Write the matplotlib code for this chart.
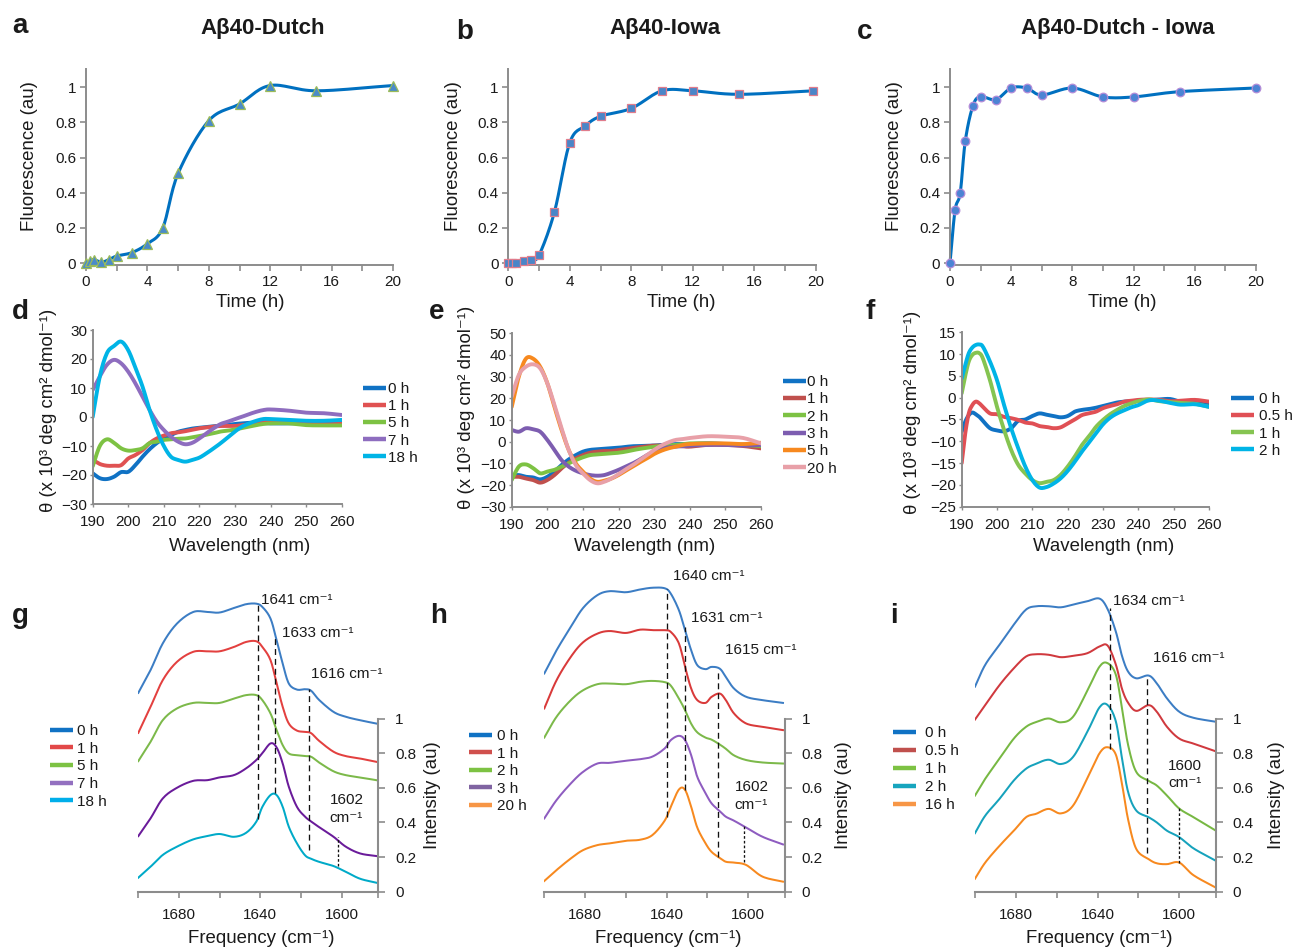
import numpy as np
import matplotlib
matplotlib.use("Agg")
import matplotlib.pyplot as plt
from matplotlib.lines import Line2D

plt.rcParams['font.family'] = ['Liberation Sans', 'DejaVu Sans']

# ---------------- data: ThT kinetics ----------------
KIN_T_A = [0, 0.25, 0.5, 1, 1.5, 2, 3, 4, 5, 6, 8, 10, 12, 15, 20]
KIN_Y_A = [0.0, 0.01, 0.02, 0.005, 0.02, 0.04, 0.06, 0.11, 0.20, 0.51, 0.81, 0.905, 1.01, 0.98, 1.01]
KIN_T_B = [0, 0.25, 0.5, 1, 1.5, 2, 3, 4, 5, 6, 8, 10, 12, 15, 19.85]
KIN_Y_B = [0.0, 0.0, 0.0, 0.01, 0.02, 0.045, 0.29, 0.685, 0.78, 0.835, 0.88, 0.98, 0.98, 0.96, 0.98]
KIN_T_C = [0, 0.33, 0.67, 1, 1.5, 2, 3, 4, 5, 6, 8, 10, 12, 15, 20]
KIN_Y_C = [0.0, 0.30, 0.40, 0.695, 0.895, 0.947, 0.93, 0.996, 0.996, 0.956, 0.996, 0.945, 0.945, 0.975, 0.996]
TITLES = ["A\u03b240-Dutch", "A\u03b240-Iowa", "A\u03b240-Dutch - Iowa"]
KIN_XTICKS = [0, 2, 4, 6, 8, 10, 12, 14, 16, 18, 20]
KIN_YTICKS = [0, 0.2, 0.4, 0.6, 0.8, 1.0]
KIN_YTICKLABELS = ["0", "0.2", "0.4", "0.6", "0.8", "1"]

# ---------------- data: CD spectra ----------------
WL_DE = [190, 192, 194, 196, 198, 200, 202, 204, 206, 208, 210, 212, 214, 216, 218, 220,
         222, 224, 226, 228, 230, 232, 234, 236, 238, 240, 245, 250, 255, 260]
CD_D_LABELS = ["0 h", "1 h", "5 h", "7 h", "18 h"]
CD_D_0H = [-19.4, -21.1, -21.4, -20.6, -19.0, -18.9, -16.6, -13.7, -11.1, -9.0, -7.4, -6.2, -5.1, -4.5, -4.0,
           -3.7, -3.4, -3.2, -3.0, -2.7, -2.4, -2.2, -2.0, -2.0, -2.1, -2.2, -2.2, -2.0, -1.6, -1.3]
CD_D_1H = [-14.8, -16.2, -16.8, -16.8, -16.6, -14.3, -13.1, -11.4, -9.0, -7.4, -6.4, -5.6, -5.3, -4.9, -4.4,
           -3.9, -3.6, -3.3, -3.1, -3.1, -3.1, -2.8, -2.6, -2.2, -1.8, -1.6, -2.0, -2.4, -2.5, -2.4]
CD_D_5H = [-17, -10, -7.7, -8.9, -10.8, -11.6, -11.4, -10.8, -9.0, -8.5, -7.9, -7.7, -7.5, -7.4, -7.0,
           -6.6, -6.1, -5.6, -5.0, -4.7, -4.3, -3.8, -3.3, -2.8, -2.4, -2.2, -2.2, -2.8, -2.9, -2.9]
CD_D_7H = [9.3, 14, 18, 19.7, 18.5, 15.6, 11.6, 7, 2.4, -1.6, -4.5, -6.8, -8.5, -9.4, -8.9,
           -7.4, -5.6, -3.9, -2.4, -1.6, -0.7, 0.1, 1.0, 1.8, 2.4, 2.6, 2.2, 1.5, 1.3, 0.7]
CD_D_18H = [0, 14, 22, 24.5, 26, 23, 17, 10.5, 2.4, -4.5, -10, -13.7, -14.8, -15.4, -14.8,
            -14, -12.5, -10.8, -9, -7, -5, -3.3, -2.2, -1.3, -0.7, -0.7, -1, -1.3, -1.3, -1]

CD_E_LABELS = ["0 h", "1 h", "2 h", "3 h", "5 h", "20 h"]
CD_E_0H = [-15.4, -15.4, -16.2, -16.5, -17.4, -16.2, -13.8, -10.8, -8.2, -6.2, -4.6, -3.8, -3.5, -3.3, -3.0,
           -2.8, -2.4, -2.1, -2.0, -1.9, -1.8, -1.5, -1.2, -1.1, -1.1, -1.1, -0.8, -1.1, -1.5, -1.8]
CD_E_1H = [-16.2, -16.2, -17, -17.7, -18.9, -17.7, -15.4, -12.3, -9.7, -7.7, -6.2, -5.1, -4.6, -4.3, -4.3,
           -3.8, -3.4, -2.9, -2.5, -2.1, -1.8, -1.8, -1.8, -1.9, -2.1, -2.3, -1.5, -1.5, -2.0, -3.1]
CD_E_2H = [-17.7, -11.5, -10.5, -12.2, -14.6, -13.8, -13, -11.5, -10, -8.5, -7.2, -6.2, -5.9, -5.6, -5.4,
           -5.1, -4.6, -3.9, -3.3, -2.8, -2.3, -2.0, -1.7, -1.5, -1.1, -0.8, -0.8, -1.1, -1.5, -2.0]
CD_E_3H = [5.4, 4.6, 6.2, 5.7, 4.6, 0.8, -3.8, -8.5, -11.5, -13.4, -14.6, -15.4, -15.7, -15.4, -14.3,
           -13, -11.5, -10, -8.2, -6.2, -4.6, -3.4, -2.6, -2.3, -2.0, -1.8, -1.5, -1.5, -1.8, -1.5]
CD_E_5H = [16, 30, 38.3, 38.3, 34.6, 27, 16, 5.4, -3.8, -10, -13.8, -17, -18.5, -18, -17,
           -15.4, -13.4, -11.5, -9.5, -7.7, -5.7, -4.2, -3.1, -2.3, -1.5, -1.1, -0.8, -0.8, -1.1, -0.5]
CD_E_20H = [20.8, 30.8, 34.6, 35.7, 33.8, 27, 17, 6.2, -3.8, -10.8, -14.6, -17.7, -19.2, -18.5, -17,
            -15, -12.8, -10.8, -8.5, -6.2, -3.8, -1.8, -0.3, 0.8, 1.2, 1.7, 2.5, 2.3, 1.7, -0.8]

WL_F = [190, 191, 192, 193, 194, 195, 196, 198, 200, 202, 204, 206, 208, 210, 212, 214, 216, 218,
        220, 222, 224, 226, 228, 230, 232, 234, 236, 238, 240, 243, 246, 249, 252, 256, 260]
CD_F_LABELS = ["0 h", "0.5 h", "1 h", "2 h"]
CD_F_0H = [-7.8, -5.5, -4.0, -3.4, -3.8, -4.4, -5.3, -7.0, -7.5, -7.7, -7.0, -5.3, -5.0, -4.2, -3.6, -3.9,
           -4.2, -4.5, -4.2, -3.2, -2.8, -2.6, -2.3, -1.9, -1.5, -1.1, -0.9, -0.8, -0.7, -0.6, -0.4, -0.3,
           -0.9, -0.9, -1.3]
CD_F_05H = [-15, -8.2, -3.6, -1.7, -0.9, -1.3, -2.1, -3.6, -3.8, -4.4, -4.7, -5.1, -5.7, -5.9, -6.5, -6.7,
            -7.0, -6.8, -5.9, -5.0, -4.0, -3.6, -3.2, -2.4, -1.9, -1.5, -0.9, -0.7, -0.5, -0.4, -0.5, -0.8,
            -0.7, -0.5, -0.9]
CD_F_1H = [1.0, 5.0, 8.3, 9.8, 10.3, 10.2, 9.0, 4.0, -2.1, -7.4, -12.0, -15.4, -17.4, -18.9, -19.6, -19.3,
           -18.9, -17.7, -15.8, -13.5, -10.9, -8.9, -6.7, -5.1, -3.8, -2.8, -1.9, -1.3, -0.8, -0.4, -0.8,
           -1.0, -1.2, -1.4, -2.1]
CD_F_2H = [4.4, 7.5, 10.2, 11.5, 12.1, 12.2, 11.7, 8.3, 4.0, -1.7, -7.0, -11.6, -15.8, -18.9, -20.6, -20.5,
           -19.7, -18.5, -16.8, -14.7, -12.4, -10.3, -8.2, -6.1, -4.6, -3.6, -2.9, -2.2, -1.7, -0.6, -0.7,
           -1.2, -1.6, -1.5, -2.1]

# ---------------- data: FTIR spectra ----------------
G_FREQ = [1700, 1694, 1688, 1681, 1673, 1666, 1660, 1653, 1647, 1642, 1639, 1635, 1632, 1629, 1626, 1622,
          1618, 1615, 1611, 1604, 1598, 1591, 1583]
G_LABELS = ["0 h", "1 h", "5 h", "7 h", "18 h"]
G_0H = [1.148, 1.279, 1.433, 1.548, 1.615, 1.615, 1.612, 1.638, 1.66, 1.663, 1.644, 1.577, 1.452, 1.317,
        1.202, 1.167, 1.169, 1.16, 1.106, 1.038, 1.01, 0.99, 0.971]
G_1H = [0.917, 1.067, 1.221, 1.327, 1.385, 1.388, 1.388, 1.413, 1.442, 1.446, 1.413, 1.337, 1.202, 1.067,
        0.971, 0.93, 0.923, 0.915, 0.87, 0.808, 0.783, 0.769, 0.75]
G_5H = [0.754, 0.865, 0.99, 1.058, 1.09, 1.09, 1.09, 1.115, 1.135, 1.135, 1.106, 1.029, 0.933, 0.846,
        0.798, 0.788, 0.783, 0.779, 0.745, 0.695, 0.673, 0.66, 0.644]
G_7H = [0.321, 0.423, 0.538, 0.60, 0.64, 0.644, 0.66, 0.673, 0.712, 0.76, 0.80, 0.856, 0.833, 0.74,
        0.606, 0.49, 0.433, 0.405, 0.372, 0.317, 0.26, 0.221, 0.206]
G_18H = [0.081, 0.144, 0.212, 0.26, 0.302, 0.321, 0.333, 0.317, 0.34, 0.404, 0.49, 0.558, 0.558, 0.49,
         0.375, 0.279, 0.21, 0.19, 0.172, 0.148, 0.115, 0.075, 0.052]
G_PEAKS = [1641, 1633, 1616, 1602]
G_PEAK_TOP = [1.663, 1.471, 1.173, 0.317]
G_PEAK_BOT = [0.417, 0.567, 0.24, 0.148]
G_PEAK_TEXT = ["1641 cm\u207b\u00b9", "1633 cm\u207b\u00b9", "1616 cm\u207b\u00b9", "1602\ncm\u207b\u00b9"]

H_FREQ = [1700, 1694, 1687, 1681, 1674, 1668, 1660, 1653, 1647, 1641, 1638, 1634, 1631, 1628, 1625, 1621,
          1618, 1614, 1611, 1607, 1601, 1593, 1583]
H_LABELS = ["0 h", "1 h", "2 h", "3 h", "20 h"]
H_0H = [1.26, 1.394, 1.529, 1.638, 1.712, 1.735, 1.729, 1.745, 1.755, 1.752, 1.721, 1.625, 1.51, 1.394,
        1.308, 1.285, 1.298, 1.288, 1.24, 1.173, 1.125, 1.106, 1.09]
H_1H = [1.058, 1.221, 1.356, 1.44, 1.49, 1.505, 1.494, 1.513, 1.51, 1.51, 1.5, 1.433, 1.298, 1.173,
        1.106, 1.09, 1.125, 1.144, 1.106, 1.029, 0.971, 0.952, 0.933]
H_2H = [0.89, 1.01, 1.106, 1.163, 1.198, 1.202, 1.198, 1.212, 1.217, 1.21, 1.19, 1.115, 1.048, 0.97,
        0.92, 0.89, 0.878, 0.85, 0.825, 0.787, 0.76, 0.746, 0.74]
H_3H = [0.423, 0.529, 0.625, 0.692, 0.74, 0.744, 0.756, 0.765, 0.78, 0.827, 0.875, 0.9, 0.875, 0.788,
        0.663, 0.57, 0.51, 0.465, 0.433, 0.41, 0.37, 0.317, 0.273]
H_20H = [0.062, 0.125, 0.192, 0.24, 0.269, 0.279, 0.294, 0.30, 0.327, 0.41, 0.49, 0.59, 0.588, 0.49,
         0.37, 0.28, 0.23, 0.195, 0.173, 0.168, 0.154, 0.087, 0.058]
H_PEAKS = [1640, 1631, 1615, 1602]
H_PEAK_TOP = [1.75, 1.529, 1.288, 0.385]
H_PEAK_BOT = [0.433, 0.587, 0.202, 0.173]
H_PEAK_TEXT = ["1640 cm\u207b\u00b9", "1631 cm\u207b\u00b9", "1615 cm\u207b\u00b9", "1602\ncm\u207b\u00b9"]

I_FREQ = [1700, 1695, 1688, 1681, 1675, 1670, 1664, 1658, 1652, 1645, 1639, 1635, 1631, 1628, 1625, 1621,
          1615, 1611, 1606, 1600, 1593, 1582]
I_LABELS = ["0 h", "0.5 h", "1 h", "2 h", "16 h"]
I_0H = [1.184, 1.31, 1.426, 1.542, 1.629, 1.648, 1.648, 1.642, 1.658, 1.677, 1.692, 1.63, 1.50, 1.36,
        1.27, 1.232, 1.248, 1.203, 1.116, 1.039, 1.004, 0.981]
I_05H = [0.994, 1.077, 1.193, 1.29, 1.358, 1.371, 1.368, 1.354, 1.362, 1.377, 1.416, 1.42, 1.31, 1.17,
         1.09, 1.044, 1.077, 1.039, 0.952, 0.884, 0.855, 0.81]
I_1H = [0.555, 0.652, 0.768, 0.884, 0.952, 0.98, 1.0, 0.978, 1.01, 1.16, 1.30, 1.319, 1.251, 1.058,
        0.845, 0.691, 0.64, 0.613, 0.555, 0.48, 0.43, 0.352]
I_2H = [0.338, 0.439, 0.536, 0.642, 0.71, 0.739, 0.762, 0.737, 0.778, 0.923, 1.065, 1.077, 0.981, 0.768,
        0.574, 0.468, 0.43, 0.4, 0.352, 0.315, 0.25, 0.178]
I_16H = [0.075, 0.168, 0.265, 0.352, 0.43, 0.45, 0.478, 0.452, 0.497, 0.655, 0.80, 0.834, 0.79, 0.62,
         0.415, 0.246, 0.188, 0.164, 0.159, 0.168, 0.095, 0.023]
I_PEAKS = [1634, 1616, 1600]
I_PEAK_TOP = [1.638, 1.242, 0.497]
I_PEAK_BOT = [0.826, 0.226, 0.168]
I_PEAK_TEXT = ["1634 cm\u207b\u00b9", "1616 cm\u207b\u00b9", "1600\ncm\u207b\u00b9"]

FTIR_XTICKS = [1700, 1680, 1660, 1640, 1620, 1600, 1582]
FTIR_XTICKLABELS = ["", "1680", "", "1640", "", "1600", ""]
FTIR_YTICKS = [0, 0.2, 0.4, 0.6, 0.8, 1.0]
FTIR_YTICKLABELS = ["0", "0.2", "0.4", "0.6", "0.8", "1"]

# ---------------- styling ----------------
W, H = 1306, 949
GRAY = '#8c8c8c'
TXT = '#1a1a1a'
TICK_FS = 11
LAB_FS = 13.4

fig = plt.figure(figsize=(W / 100, H / 100), dpi=100)


def add_ax(L, T, R, B):
    return fig.add_axes([L / W, 1 - B / H, (R - L) / W, (B - T) / H])


def ftext(x, y, s, **kw):
    kw.setdefault('color', TXT)
    return fig.text(x / W, 1 - y / H, s, **kw)


def smooth(x, y, sx, sy, n=16):
    P = np.column_stack([np.asarray(x, float) * sx, np.asarray(y, float) * sy])
    ext = np.vstack([2 * P[0] - P[1], P, 2 * P[-1] - P[-2]])
    t = np.linspace(0, 1, n, endpoint=False)[:, None]
    segs = []
    for i in range(1, len(ext) - 2):
        p0, p1, p2, p3 = ext[i - 1], ext[i], ext[i + 1], ext[i + 2]
        segs.append(0.5 * (2 * p1 + (p2 - p0) * t + (2 * p0 - 5 * p1 + 4 * p2 - p3) * t ** 2
                           + (3 * p1 - p0 - 3 * p2 + p3) * t ** 3))
    segs.append(P[-1:])
    S = np.vstack(segs)
    return S[:, 0] / sx, S[:, 1] / sy


def legend_at(ax, handles, labels, x_px, yc_px, pad, spacing):
    leg = ax.legend(handles, labels, loc='center left', bbox_to_anchor=(x_px / W, 1 - yc_px / H),
                    bbox_transform=fig.transFigure, frameon=False, fontsize=TICK_FS,
                    handlelength=1.5, handletextpad=pad, labelspacing=spacing, borderpad=0,
                    borderaxespad=0)
    for t in leg.get_texts():
        t.set_color(TXT)
    for l in leg.get_lines():
        l.set_linewidth(3.2)
        l.set_solid_capstyle('butt')
    return leg


# ---------------- row 1: kinetics ----------------
kin_specs = [
    (86, 393, KIN_T_A, KIN_Y_A, '^', 6.8, '#4a8bc9', '#9bbb59', 263, 29.2, 250.5, 12, 'a', 33.3),
    (508.3, 815.7, KIN_T_B, KIN_Y_B, 's', 5.6, '#4a86c8', '#e07c8c', 665, 453.3, 681.3, 456, 'b', 39.3),
    (950, 1256, KIN_T_C, KIN_Y_C, 'o', 6.2, '#4c84d4', '#b48cd8', 1117.5, 894.3, 1121.8, 857, 'c', 39.3),
]
for (L, R, tt, yy, mk, ms, fc, ec, tx, ylx, xlx, plx, plab, ply), title in zip(kin_specs, TITLES):
    ax = add_ax(L, 69, R, 265)
    xs, ys = smooth(tt, yy, 15.35, 176)
    ax.plot(xs, ys, color='#0070c0', lw=2.2, zorder=2, clip_on=False, solid_capstyle='round')
    ax.plot(tt, yy, ls='none', marker=mk, ms=ms, mfc=fc, mec=ec, mew=0.9, zorder=3, clip_on=False)
    ax.set_xlim(0, 20)
    ax.set_ylim(-0.011, 1.104)
    for s in ('top', 'right'):
        ax.spines[s].set_visible(False)
    for s in ('left', 'bottom'):
        ax.spines[s].set_color(GRAY)
        ax.spines[s].set_linewidth(1.4)
    ax.set_xticks(KIN_XTICKS)
    ax.set_xticklabels([str(v) if v % 4 == 0 else '' for v in KIN_XTICKS])
    ax.set_yticks(KIN_YTICKS)
    ax.set_yticklabels(KIN_YTICKLABELS)
    ax.tick_params(axis='x', direction='out', length=4, width=1.2, color=GRAY, labelsize=TICK_FS,
                   labelcolor=TXT, pad=3.2)
    ax.tick_params(axis='y', direction='out', length=4, width=1.2, color=GRAY, labelsize=TICK_FS,
                   labelcolor=TXT, pad=3)
    ftext(tx, 34, title, ha='center', va='baseline', fontsize=16, fontweight='bold')
    ftext(ylx, 155.8, 'Fluorescence (au)', rotation=90, ha='center', va='center', fontsize=LAB_FS)
    ftext(xlx, 307.3, 'Time (h)', ha='center', va='baseline', fontsize=LAB_FS)
    ftext(plx, ply, plab, ha='left', va='baseline', fontsize=20, fontweight='bold')

# ---------------- row 2: CD ----------------
CD_YLABEL = '\u03b8 (x 10\u00b3 deg cm\u00b2 dmol\u207b\u00b9)'
cd_specs = [
    dict(rect=(92.7, 330, 341.7, 504), ylim=(-30, 30), yticks=[-30, -20, -10, 0, 10, 20, 30],
         wl=WL_DE, series=[CD_D_0H, CD_D_1H, CD_D_5H, CD_D_7H, CD_D_18H], labels=CD_D_LABELS,
         colors=['#1072c4', '#e05252', '#7dc243', '#8e6dbf', '#00b4e6'],
         leg=(363, 423.3, 0.13, 0.21), ylab=(49, 410), xlab=239.5, plab=('d', 12, 319.3)),
    dict(rect=(511.7, 333.3, 761, 506.7), ylim=(-30, 50), yticks=[-30, -20, -10, 0, 10, 20, 30, 40, 50],
         wl=WL_DE, series=[CD_E_0H, CD_E_1H, CD_E_2H, CD_E_3H, CD_E_5H, CD_E_20H], labels=CD_E_LABELS,
         colors=['#1072c4', '#c0504d', '#7dc243', '#7d5db0', '#f7891f', '#e8a0a8'],
         leg=(783, 425.3, 0.07, 0.22), ylab=(466.7, 407.5), xlab=644.2, plab=('e', 429, 319.3)),
    dict(rect=(961.7, 332.3, 1209, 506.7), ylim=(-25, 15), yticks=[-25, -20, -15, -10, -5, 0, 5, 10, 15],
         wl=WL_F, series=[CD_F_0H, CD_F_05H, CD_F_1H, CD_F_2H], labels=CD_F_LABELS,
         colors=['#1072c4', '#e05055', '#85c451', '#00b4e6'],
         leg=(1231, 425, 0.33, 0.21), ylab=(912.5, 412.5), xlab=1103.3, plab=('f', 866, 319.3)),
]
for sp in cd_specs:
    L, T, R, B = sp['rect']
    ax = add_ax(L, T, R, B)
    sx = (R - L) / 70.0
    sy = (B - T) / (sp['ylim'][1] - sp['ylim'][0])
    handles = []
    for ser, col in zip(sp['series'], sp['colors']):
        xs, ys = smooth(sp['wl'], ser, sx, sy, n=8)
        ln, = ax.plot(xs, ys, color=col, lw=2.8, solid_capstyle='round', solid_joinstyle='round')
        handles.append(ln)
    ax.set_xlim(190, 260)
    ax.set_ylim(*sp['ylim'])
    ax.set_xticks([190, 200, 210, 220, 230, 240, 250, 260])
    ax.set_yticks(sp['yticks'])
    for s in ('top', 'right'):
        ax.spines[s].set_visible(False)
    for s in ('left', 'bottom'):
        ax.spines[s].set_color(GRAY)
        ax.spines[s].set_linewidth(1.4)
    ax.tick_params(axis='x', direction='out', length=2.5, width=1.0, color=GRAY, labelsize=TICK_FS,
                   labelcolor=TXT, pad=5.5)
    ax.tick_params(axis='y', direction='out', length=2.5, width=1.0, color=GRAY, labelsize=TICK_FS,
                   labelcolor=TXT, pad=1.5)
    lx, ly, pad, spc = sp['leg']
    legend_at(ax, handles, sp['labels'], lx, ly, pad, spc)
    ftext(sp['ylab'][0], sp['ylab'][1], CD_YLABEL, rotation=90, ha='center', va='center', fontsize=LAB_FS)
    ftext(sp['xlab'], 550.7, 'Wavelength (nm)', ha='center', va='baseline', fontsize=LAB_FS)
    p, px, py = sp['plab']
    ftext(px, py, p, ha='left', va='baseline', fontsize=20, fontweight='bold')

# ---------------- row 3: FTIR ----------------
ft_specs = [
    dict(L=138.3, R=378.3, freq=G_FREQ, series=[G_0H, G_1H, G_5H, G_7H, G_18H], labels=G_LABELS,
         colors=['#3c7dc4', '#e3403f', '#7cb94a', '#6a1b9a', '#00aac8'],
         legcolors=['#1072c4', '#e24848', '#7dc243', '#9370c0', '#00aeea'],
         peaks=G_PEAKS, top=G_PEAK_TOP, bot=G_PEAK_BOT, text=G_PEAK_TEXT,
         textpos=[(1639.5, 1.686), (1629.2, 1.492), (1615.0, 1.255), (1606.0, 0.478)],
         leg=(50, 766.3, 0.26, 0.24), ylabx=432.5, xlab=260.8, plab=('g', 12, 623.3)),
    dict(L=544.3, R=785, freq=H_FREQ, series=[H_0H, H_1H, H_2H, H_3H, H_20H], labels=H_LABELS,
         colors=['#3c7dc4', '#d93a3a', '#7cb94a', '#8e5cc0', '#f7891f'],
         legcolors=['#1072c4', '#d0504d', '#7dc243', '#8064a2', '#f79646'],
         peaks=H_PEAKS, top=H_PEAK_TOP, bot=H_PEAK_BOT, text=H_PEAK_TEXT,
         textpos=[(1637.1, 1.82), (1628.1, 1.58), (1611.5, 1.394), (1606.6, 0.552)],
         leg=(469.3, 771.3, 0.33, 0.23), ylabx=843.3, xlab=668, plab=('h', 430, 623.3)),
    dict(L=975, R=1216, freq=I_FREQ, series=[I_0H, I_05H, I_1H, I_2H, I_16H], labels=I_LABELS,
         colors=['#3c7dc4', '#d0393e', '#77b843', '#16a2bc', '#f7891f'],
         legcolors=['#1072c4', '#c0504d', '#7dc243', '#17a5be', '#f79646'],
         peaks=I_PEAKS, top=I_PEAK_TOP, bot=I_PEAK_BOT, text=I_PEAK_TEXT,
         textpos=[(1632.3, 1.68), (1613.0, 1.35), (1605.4, 0.676)],
         leg=(892.7, 769.2, 0.6, 0.27), ylabx=1276.7, xlab=1098.8, plab=('i', 890, 622.7)),
]
FT_YMAX = 1.9
FT_PX_PER_UNIT = 173.2
for sp in ft_specs:
    Bpx = 891.7
    Tpx = Bpx - FT_YMAX * FT_PX_PER_UNIT
    ax = add_ax(sp['L'], Tpx, sp['R'], Bpx)
    sx = (sp['R'] - sp['L']) / 118.0
    for ser, col in zip(sp['series'], sp['colors']):
        xs, ys = smooth(sp['freq'], ser, sx, FT_PX_PER_UNIT, n=10)
        ax.plot(xs, ys, color=col, lw=1.45, solid_joinstyle='round')
    for pk, t0, b0 in zip(sp['peaks'], sp['top'], sp['bot']):
        ls = (0, (4.5, 3)) if pk not in (1602, 1600) else (0, (2, 1.6))
        ax.plot([pk, pk], [b0, t0], color='#111111', lw=0.95, ls=ls)
    for (tx, ty), s in zip(sp['textpos'], sp['text']):
        ax.text(tx, ty, s, ha='left', va='center', fontsize=TICK_FS, color=TXT, linespacing=1.3)
    ax.set_xlim(1700, 1582)
    ax.set_ylim(0, FT_YMAX)
    ax.set_xticks(FTIR_XTICKS)
    ax.set_xticklabels(FTIR_XTICKLABELS)
    ax.yaxis.tick_right()
    ax.set_yticks(FTIR_YTICKS)
    ax.set_yticklabels(FTIR_YTICKLABELS)
    for s in ('top', 'left'):
        ax.spines[s].set_visible(False)
    for s in ('right', 'bottom'):
        ax.spines[s].set_color(GRAY)
        ax.spines[s].set_linewidth(1.5)
    ax.spines['right'].set_bounds(0, 1)
    ax.tick_params(axis='x', direction='out', length=4, width=1.2, color=GRAY, labelsize=TICK_FS,
                   labelcolor=TXT, pad=8)
    ax.tick_params(axis='y', direction='out', length=5, width=1.2, color=GRAY, labelsize=TICK_FS,
                   labelcolor=TXT, pad=7)
    proxies = [Line2D([0], [0], color=c, lw=3.2) for c in sp['legcolors']]
    lx, ly, pad, spc = sp['leg']
    legend_at(ax, proxies, sp['labels'], lx, ly, pad, spc)
    ftext(sp['ylabx'], 795, 'Intensity (au)', rotation=90, ha='center', va='center', fontsize=LAB_FS)
    ftext(sp['xlab'], 943.3, 'Frequency (cm\u207b\u00b9)', ha='center', va='baseline', fontsize=LAB_FS)
    p, px, py = sp['plab']
    ftext(px, py, p, ha='left', va='baseline', fontsize=20, fontweight='bold')

fig.savefig('out.png', dpi=100)
